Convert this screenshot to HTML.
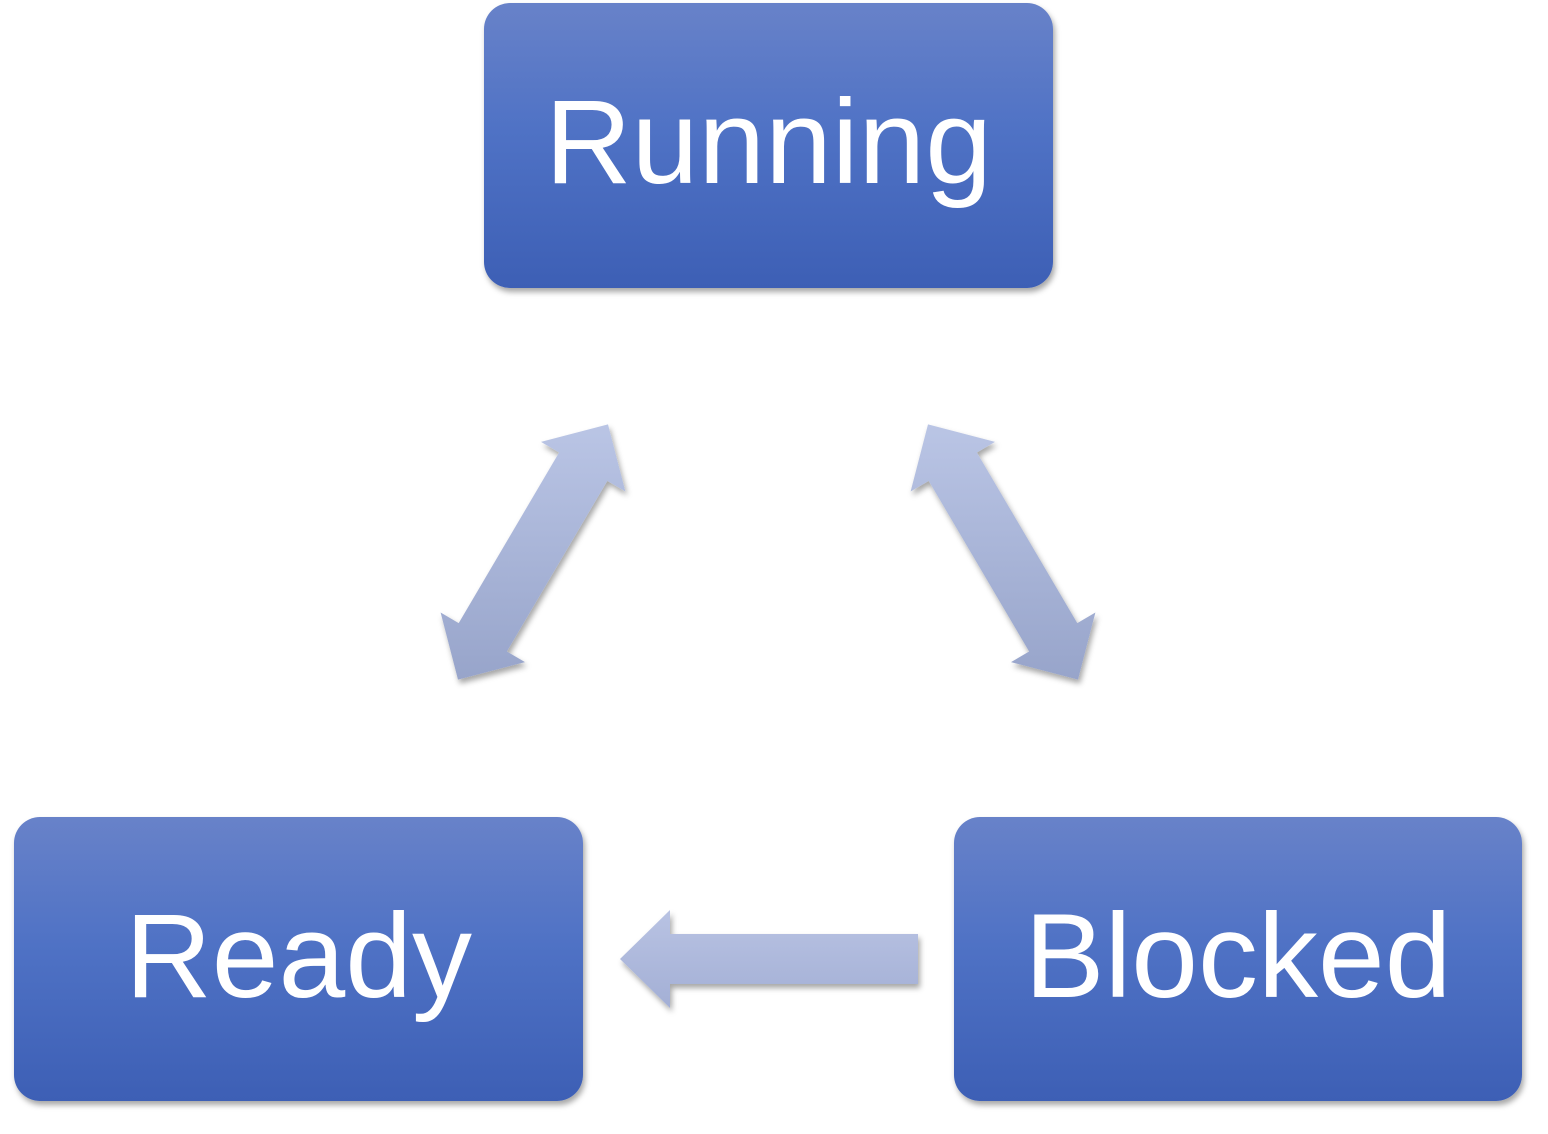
<!DOCTYPE html>
<html><head><meta charset="utf-8"><style>
html,body{margin:0;padding:0;background:#fff;width:1548px;height:1134px;overflow:hidden;position:relative}
.box{position:absolute;border-radius:26px;background:linear-gradient(#6882c9,#4f72c5 45%,#3d5fb5);box-shadow:2px 4px 6px rgba(0,0,0,0.35);color:#fff;font-family:"Liberation Sans",sans-serif;font-size:120px;text-align:center;line-height:1}
.box span{position:absolute;left:0;right:0}
svg{position:absolute;left:0;top:0}
</style></head><body>
<div class="box" style="left:484px;top:3px;width:569px;height:285px"><span style="top:79px">Running</span></div>
<div class="box" style="left:14px;top:817px;width:569px;height:284px"><span style="top:79px">Ready</span></div>
<div class="box" style="left:954px;top:817px;width:568px;height:284px"><span style="top:79px">Blocked</span></div>
<svg width="1548" height="1134">
<defs>
<linearGradient id="g" gradientUnits="userSpaceOnUse" x1="0" y1="424" x2="0" y2="682"><stop offset="0" stop-color="#bac5e5"/><stop offset="1" stop-color="#97a4ca"/></linearGradient>
<linearGradient id="h" gradientUnits="userSpaceOnUse" x1="0" y1="910" x2="0" y2="1008"><stop offset="0" stop-color="#b9c3e3"/><stop offset="1" stop-color="#a3afd5"/></linearGradient>
<filter id="s" x="-20%" y="-20%" width="140%" height="140%"><feDropShadow dx="2" dy="4" stdDeviation="3" flood-color="#000" flood-opacity="0.35"/></filter>
</defs>
<g filter="url(#s)">
<polygon points="458,679.6 440.6,612.5 458.7,623.1 559.1,452.5 541,441.9 608,424.4 625.4,491.5 607.3,480.9 506.9,651.5 525,662.1" fill="url(#g)"/>
<polygon points="1078,679.6 1095.4,612.5 1077.3,623.1 976.9,452.5 995,441.9 928,424.4 910.6,491.5 928.7,480.9 1029.1,651.5 1011,662.1" fill="url(#g)"/>
<polygon points="620,959 670,910 670,934 918,934 918,984 670,984 670,1008" fill="url(#h)"/>
</g>
</svg>
</body></html>
